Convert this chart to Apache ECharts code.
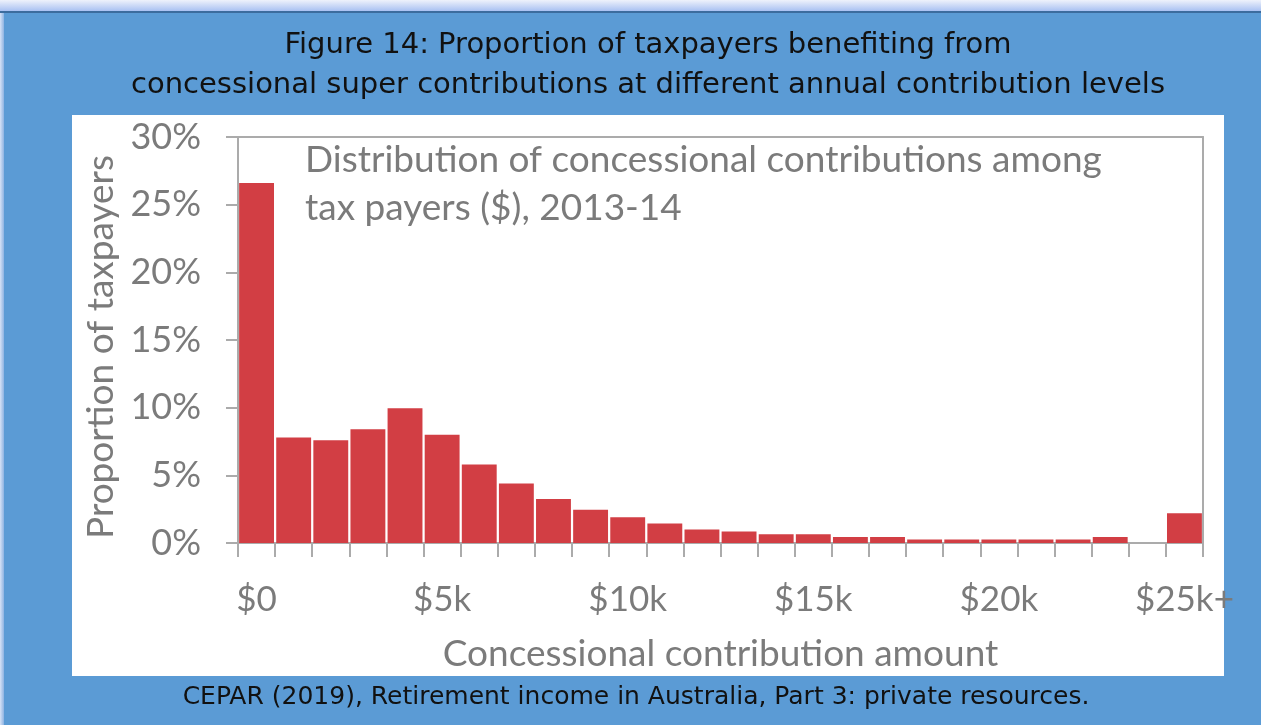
<!DOCTYPE html>
<html>
<head>
<meta charset="utf-8">
<title>Concessional super contributions</title>
<script src="https://cdn.jsdelivr.net/npm/echarts@6/dist/echarts.min.js"></script>
<style>
  html, body { margin: 0; padding: 0; background: #5B9BD5; }
  #chart { width: 1261px; height: 725px; }
</style>
</head>
<body>
<div id="chart"></div>
<script>
// Contribution bands ($1k wide, last band open-ended)
const categories = ['$0', '$1k', '$2k', '$3k', '$4k', '$5k', '$6k', '$7k', '$8k', '$9k',
  '$10k', '$11k', '$12k', '$13k', '$14k', '$15k', '$16k', '$17k', '$18k', '$19k',
  '$20k', '$21k', '$22k', '$23k', '$24k', '$25k+'];

// Share of taxpayers in each band (%)
const shares = [26.6, 7.8, 7.6, 8.4, 9.95, 8.0, 5.8, 4.4, 3.25, 2.45,
  1.9, 1.45, 1.0, 0.85, 0.65, 0.65, 0.45, 0.45, 0.25, 0.25,
  0.25, 0.25, 0.25, 0.45, 0, 2.2];

// Value axis range and step (%)
const yMin = 0;
const yMax = 30;
const yStep = 5;

const titleLines = [
  'Figure 14: Proportion of taxpayers benefiting from',
  'concessional super contributions at different annual contribution levels'
];
const noteLines = [
  'Distribution of concessional contributions among',
  'tax payers ($), 2013-14'
];
const sourceText = 'CEPAR (2019), Retirement income in Australia, Part 3: private resources.';

const axisGrey = '#ABABAB';
const textGrey = '#7B7B7B';
const chartFont = 'Lato, "Noto Sans", sans-serif';
const frameFont = '"DejaVu Sans", Verdana, sans-serif';

const chart = echarts.init(document.getElementById('chart'), null, { renderer: 'canvas' });

chart.setOption({
  backgroundColor: '#5B9BD5',
  animation: false,
  graphic: [
    // framing strip along the top and left edges
    { type: 'rect', z: -20, shape: { x: 0, y: 0, width: 1261, height: 11 },
      style: { fill: new echarts.graphic.LinearGradient(0, 0, 0, 1, [
        { offset: 0, color: '#EEF2FB' }, { offset: 1, color: '#A9C1F2' }]) } },
    { type: 'rect', z: -20, shape: { x: 0, y: 11, width: 1261, height: 2 },
      style: { fill: '#3C6C9E' } },
    { type: 'rect', z: -20, shape: { x: 0, y: 13, width: 4, height: 712 },
      style: { fill: new echarts.graphic.LinearGradient(0, 0, 1, 0, [
        { offset: 0, color: '#D6E2F6' }, { offset: 1, color: '#8DB3E2' }]) } },
    // white chart panel
    { type: 'rect', z: -10, shape: { x: 72, y: 115, width: 1152, height: 561 },
      style: { fill: '#FFFFFF' } },
    // two-line heading
    { type: 'text', x: 648, y: 45,
      style: { text: titleLines[0], font: '29px ' + frameFont, fill: '#111111',
        textAlign: 'center', textVerticalAlign: 'middle', align: 'center', verticalAlign: 'middle' } },
    { type: 'text', x: 648, y: 85,
      style: { text: titleLines[1], font: '29px ' + frameFont, fill: '#111111',
        textAlign: 'center', textVerticalAlign: 'middle', align: 'center', verticalAlign: 'middle' } },
    // in-plot note
    { type: 'text', x: 305, y: 160,
      style: { text: noteLines[0], font: '37px ' + chartFont, fill: textGrey,
        textAlign: 'left', textVerticalAlign: 'middle', align: 'left', verticalAlign: 'middle' } },
    { type: 'text', x: 305, y: 208,
      style: { text: noteLines[1], font: '37px ' + chartFont, fill: textGrey,
        textAlign: 'left', textVerticalAlign: 'middle', align: 'left', verticalAlign: 'middle' } },
    // source line
    { type: 'text', x: 636, y: 697,
      style: { text: sourceText, font: '25px ' + frameFont, fill: '#111111',
        textAlign: 'center', textVerticalAlign: 'middle', align: 'center', verticalAlign: 'middle' } }
  ],
  grid: { left: 238, right: 58, top: 137, bottom: 182, containLabel: false },
  xAxis: [
    {
      type: 'category',
      data: categories,
      boundaryGap: true,
      name: 'Concessional contribution amount',
      nameLocation: 'middle',
      nameGap: 93,
      nameTextStyle: { color: textGrey, fontFamily: chartFont, fontSize: 37 },
      axisLine: { lineStyle: { color: axisGrey, width: 2 } },
      axisTick: { show: true, interval: 0, length: 14, lineStyle: { color: axisGrey, width: 2 } },
      axisLabel: { interval: 4, margin: 39, color: textGrey, fontFamily: chartFont, fontSize: 35 }
    },
    {
      // top edge of the plot frame
      type: 'category',
      data: categories,
      position: 'top',
      axisLine: { show: true, onZero: false, lineStyle: { color: axisGrey, width: 2 } },
      axisTick: { show: false },
      axisLabel: { show: false }
    }
  ],
  yAxis: [
    {
      type: 'value',
      min: yMin,
      max: yMax,
      interval: yStep,
      name: 'Proportion of taxpayers',
      nameLocation: 'middle',
      nameGap: 112,
      nameTextStyle: { color: textGrey, fontFamily: chartFont, fontSize: 37, padding: [0, 14, 0, 0] },
      axisLine: { show: true, lineStyle: { color: axisGrey, width: 2 } },
      axisTick: { show: true, length: 12, lineStyle: { color: axisGrey, width: 2 } },
      splitLine: { show: false },
      axisLabel: { formatter: '{value}%', margin: 37, color: textGrey, fontFamily: chartFont, fontSize: 36 }
    },
    {
      // right edge of the plot frame
      type: 'value',
      min: yMin,
      max: yMax,
      interval: yStep,
      position: 'right',
      axisLine: { show: true, lineStyle: { color: axisGrey, width: 2 } },
      axisTick: { show: false },
      axisLabel: { show: false },
      splitLine: { show: false }
    }
  ],
  series: [
    {
      type: 'bar',
      data: shares,
      barCategoryGap: '6%',
      itemStyle: { color: '#D23E44' },
      z: 5
    }
  ]
});
</script>
</body>
</html>
